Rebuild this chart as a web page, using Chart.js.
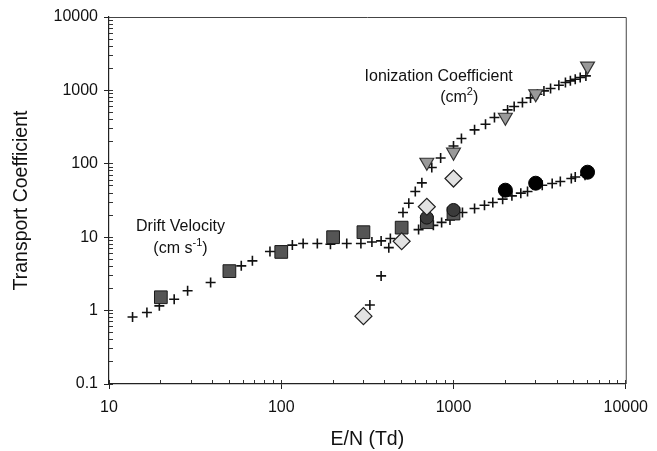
<!DOCTYPE html>
<html>
<head>
<meta charset="utf-8">
<script src="https://cdn.jsdelivr.net/npm/chart.js@4.4.1/dist/chart.umd.min.js"></script>
<style>
  body { margin: 0; background: #fff; }
  #wrap { width: 657px; height: 451px; }
</style>
</head>
<body>
<div id="wrap"><canvas id="chart" width="657" height="451"></canvas></div>
<script>
// tick labels
const xTickValues = [10, 100, 1000, 10000];
const yTickValues = [0.1, 1, 10, 100, 1000, 10000];

// measured drift velocity (squares)
const squareX = [20, 50, 100, 200, 300, 500, 700, 1000];
const squareY = [1.52, 3.45, 6.3, 10, 11.7, 13.5, 16, 21];
// dark circles sitting on the 700 / 1000 squares
const darkCircleX = [700, 1000];
const darkCircleY = [18.5, 23.5];
// black circles
const circleX = [2000, 3000, 6000];
const circleY = [43.7, 54.4, 76.8];
// open diamonds
const diamondX = [300, 500, 700, 1000];
const diamondY = [0.84, 8.8, 26, 63];
// down triangles (ionization coefficient)
const triangleX = [700, 1000, 2000, 3000, 6000];
const triangleY = [105, 144, 431, 900, 2140];

// calculated values (crosses)
const driftCalcX = [13.7, 16.6, 19.6, 23.9, 28.6, 38.9, 58.6, 68, 86, 116, 134, 162, 193, 240, 290, 336, 380, 430,
                    627, 764, 853, 954, 1127, 1325, 1513, 1691, 1929, 2183, 2459, 2690, 3275, 3740, 4170, 4830, 5090, 5800];
const driftCalcY = [0.82, 0.94, 1.16, 1.43, 1.86, 2.41, 4.07, 4.76, 6.38, 7.8, 8.2, 8.2, 8.0, 8.2, 8.2, 8.6, 8.9, 9.6,
                    12.7, 14.5, 15.9, 17.2, 21.7, 24.6, 27.3, 29.7, 33, 36.6, 39.8, 42, 51, 53.8, 57.4, 63, 66, 70];
const ionCalcX = [327, 380, 421, 509, 550, 600, 655, 748, 842, 1000, 1112, 1325, 1534, 1729, 2061, 2250, 2513, 2800,
                  3070, 3350, 3660, 4090, 4465, 4770, 5090, 5440, 5870];
const ionCalcY = [1.19, 2.97, 7.2, 21.7, 29, 42, 55, 89, 120, 175, 221, 290, 346, 427, 542, 604, 684, 790,
                  888, 985, 1062, 1175, 1282, 1350, 1420, 1500, 1577];

function pairs(xs, ys) {
    return xs.map((x, i) => ({x: x, y: ys[i]}));
}

// every 1..9 x 10^n between lo and hi
function logTicks(lo, hi) {
    let out = [];
    for (let p = lo; p < hi; p *= 10) {
        for (let m = 1; m < 10; m++) out.push(+(m * p).toPrecision(3));
    }
    out.push(hi);
    return out.map(v => ({value: v}));
}

const labelFont = "Liberation Sans, Arial, sans-serif";

// frame on top and right of the plot
const framePlugin = {
    id: 'frame',
    afterDraw(chart) {
        const a = chart.chartArea;
        const ctx = chart.ctx;
        ctx.save();
        ctx.strokeStyle = '#444';
        ctx.lineWidth = 1;
        ctx.beginPath();
        ctx.moveTo(a.left, a.top + 0.5);
        ctx.lineTo(a.right + 0.5, a.top + 0.5);
        ctx.lineTo(a.right + 0.5, a.bottom);
        ctx.stroke();
        ctx.restore();
    }
};

// text with a superscript part, centred on a data position
function drawSup(ctx, parts, cx, cy) {
    let total = 0;
    parts.forEach(p => {
        ctx.font = (p.sup ? '11px ' : '16px ') + labelFont;
        total += ctx.measureText(p.t).width;
    });
    let x = cx - total / 2;
    parts.forEach(p => {
        ctx.font = (p.sup ? '11px ' : '16px ') + labelFont;
        ctx.fillText(p.t, x, p.sup ? cy - 6 : cy);
        x += ctx.measureText(p.t).width;
    });
}

const textPlugin = {
    id: 'notes',
    afterDatasetsDraw(chart) {
        const ctx = chart.ctx;
        const sx = chart.scales.x, sy = chart.scales.y;
        ctx.save();
        ctx.fillStyle = '#111';
        ctx.textAlign = 'left';
        ctx.textBaseline = 'middle';
        drawSup(ctx, [{t: 'Drift Velocity'}], sx.getPixelForValue(26), sy.getPixelForValue(14));
        drawSup(ctx, [{t: '(cm s'}, {t: '-1', sup: true}, {t: ')'}], sx.getPixelForValue(26), sy.getPixelForValue(6.9));
        drawSup(ctx, [{t: 'Ionization Coefficient'}], sx.getPixelForValue(820), sy.getPixelForValue(1560));
        drawSup(ctx, [{t: '(cm'}, {t: '2', sup: true}, {t: ')'}], sx.getPixelForValue(1080), sy.getPixelForValue(800));
        ctx.restore();
    }
};

const ctx = document.getElementById('chart').getContext('2d');
const myChart = new Chart(ctx, {
    type: 'scatter',
    data: {
        datasets: [
            {label: 'Drift (calc)', data: pairs(driftCalcX, driftCalcY), pointStyle: 'cross', pointRadius: 5,
             borderColor: '#111', borderWidth: 1.6, order: 5},
            {label: 'Ionization (calc)', data: pairs(ionCalcX, ionCalcY), pointStyle: 'cross', pointRadius: 5,
             borderColor: '#111', borderWidth: 1.6, order: 5},
            {label: 'Squares', data: pairs(squareX, squareY), pointStyle: 'rect', pointRadius: 9,
             backgroundColor: '#555', borderColor: '#1a1a1a', borderWidth: 1, order: 3},
            {label: 'Dark circles', data: pairs(darkCircleX, darkCircleY), pointStyle: 'circle', pointRadius: 6.5,
             backgroundColor: '#3a3a3a', borderColor: '#111', borderWidth: 1, order: 2},
            {label: 'Diamonds', data: pairs(diamondX, diamondY), pointStyle: 'rectRot', pointRadius: 8.5,
             backgroundColor: '#e2e2e2', borderColor: '#222', borderWidth: 1.2, order: 1},
            {label: 'Circles', data: pairs(circleX, circleY), pointStyle: 'circle', pointRadius: 7,
             backgroundColor: '#000', borderColor: '#000', borderWidth: 1, order: 1},
            {label: 'Triangles', data: pairs(triangleX, triangleY), pointStyle: 'triangle', rotation: 180, pointRadius: 8,
             backgroundColor: '#999', borderColor: '#333', borderWidth: 1.2, order: 1}
        ]
    },
    plugins: [framePlugin, textPlugin],
    options: {
        responsive: false,
        animation: false,
        layout: {padding: {top: 17, right: 26, left: 0, bottom: 0}},
        plugins: {legend: {display: false}, tooltip: {enabled: false}},
        scales: {
            x: {
                type: 'logarithmic', position: 'bottom', weight: 1,
                min: 10, max: 10000,
                afterBuildTicks: s => { s.ticks = xTickValues.map(v => ({value: v})); },
                afterFit: s => { s.height = 67; },
                ticks: {color: '#111', padding: 9, font: {family: labelFont, size: 16},
                        callback: v => String(v)},
                grid: {drawOnChartArea: false, tickLength: 5, tickColor: '#222'},
                border: {color: '#222', width: 1.2},
                title: {display: true, text: 'E/N (Td)', color: '#111',
                        font: {family: labelFont, size: 19.5}, padding: {top: 0, bottom: 0}}
            },
            xMinor: {
                type: 'logarithmic', position: 'bottom', weight: 0,
                min: 10, max: 10000,
                afterBuildTicks: s => { s.ticks = logTicks(10, 10000); },
                afterFit: s => { s.height = 0; },
                ticks: {display: false},
                grid: {drawOnChartArea: false, tickLength: -4, tickColor: '#333'},
                border: {display: false}
            },
            y: {
                type: 'logarithmic', position: 'left', weight: 1,
                min: 0.1, max: 10000,
                afterBuildTicks: s => { s.ticks = yTickValues.map(v => ({value: v})); },
                afterFit: s => { s.width = 109; },
                ticks: {color: '#111', padding: 6, font: {family: labelFont, size: 16},
                        callback: v => String(v)},
                grid: {drawOnChartArea: false, tickLength: 5, tickColor: '#222'},
                border: {color: '#222', width: 1.2},
                title: {display: true, text: 'Transport Coefficient', color: '#111',
                        font: {family: labelFont, size: 19.5}, padding: {top: 10, bottom: 0}}
            },
            yMinor: {
                type: 'logarithmic', position: 'left', weight: 0,
                min: 0.1, max: 10000,
                afterBuildTicks: s => { s.ticks = logTicks(0.1, 10000); },
                afterFit: s => { s.width = 0; },
                ticks: {display: false},
                grid: {drawOnChartArea: false, tickLength: -4, tickColor: '#333'},
                border: {display: false}
            }
        }
    }
});
</script>
</body>
</html>
